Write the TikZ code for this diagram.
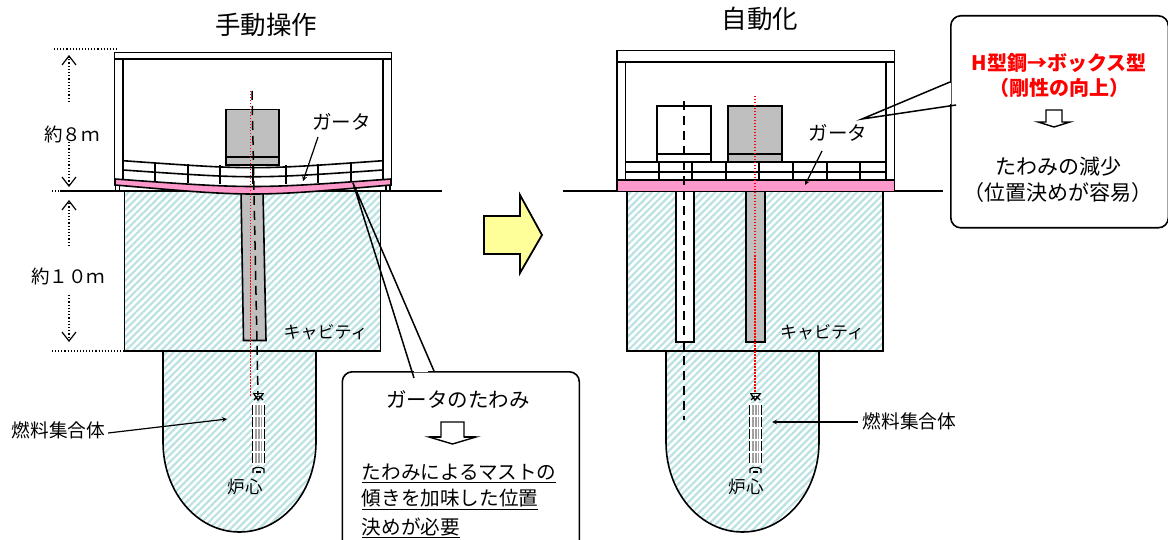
\documentclass[tikz,border=0pt]{standalone}
\usepackage{fontspec}
\setmainfont{Noto Sans CJK JP}
\usetikzlibrary{arrows.meta,patterns.meta}
\definecolor{hatchblue}{HTML}{BBE2E3}
\definecolor{girderpink}{HTML}{FF99CC}
\definecolor{blockgray}{HTML}{BFBFBF}
\definecolor{arrowyellow}{HTML}{FFFF99}
\newcommand{\fs}[1]{\fontsize{#1}{#1}\selectfont}
\begin{document}
\begin{tikzpicture}
[x=1pt,y=-1pt,>=stealth,line width=1.6pt,
hatch/.style={draw,pattern={Lines[angle=45,distance=5pt,line width=2.2pt]},pattern color=hatchblue},
steel/.style={draw,fill=white},
block/.style={draw,fill=blockgray},
girder/.style={draw,fill=girderpink},
mast/.style={line width=1.5pt,dash pattern=on 9pt off 6pt},
axis/.style={red,line width=1.4pt,dash pattern=on 1.5pt off 1.5pt},
dim/.style={dotted,line width=1.2pt,-{Straight Barb[length=9pt,width=14pt,line width=1.2pt]}},
guide/.style={dotted,line width=1.1pt},
thin arrow/.style={line width=1.2pt,->},
note/.style={draw,fill=white,rounded corners=10pt,inner sep=0pt},
openarrow/.style={draw,fill=white,line width=1.4pt},
]
\useasboundingbox (0,0) rectangle (1168,540);
\clip (0,0) rectangle (1168,540);

%Titles
\node (titleL) at (266,25) {\fs{25.5}手動操作};
\node (titleR) at (760,19) {\fs{25.5}自動化};

%Reactor vessels and cavities
\draw[hatch] (163,351) -- (163,442) .. controls (163,492) and (197,532) .. (239.5,532) .. controls (282,532) and (316,492) .. (316,442) -- (316,351) -- cycle;
\draw[hatch] (666,351) -- (666,442) .. controls (666,492) and (700,532) .. (742.5,532) .. controls (785,532) and (819,492) .. (819,442) -- (819,351) -- cycle;
\draw[hatch] (124.5,191) rectangle (380.5,351);
\draw[hatch] (627,191) rectangle (883,351);

%Ground lines
\draw[line width=1.1pt] (60,191) -- (442,191);
\draw[line width=1.1pt] (563,191) -- (943,191);

%Masts
\draw[block] (241,191) -- (263,191) -- (266,340.5) -- (243.5,340.5) -- cycle;
\draw[steel] (676,191) -- (694,191) -- (694,342) -- (676,342) -- cycle;
\draw[block] (746,191) -- (765,191) -- (765,342) -- (746,342) -- cycle;

%Building frame, left
\draw[steel] (114.5,59) rectangle (123,180);
\draw[steel] (383,59) rectangle (391.5,180);
\draw[steel] (115.5,180) rectangle (119.5,191);
\draw[steel] (386,180) rectangle (390,191);
\draw[steel] (114.5,52.5) rectangle (391.5,59);

%Building frame, right
\draw[steel] (617,62) rectangle (625.5,191);
\draw[steel] (886,62) rectangle (894.5,191);
\draw[steel] (617,50.5) rectangle (894.5,62);

%Sagging rails and girder
\foreach \vx in {155,188,220,253,286,318,351} {
  \draw ({\vx},{160.7+18.6*(\vx-123)/260*(383-\vx)/260}) -- ({\vx},{179+20*(\vx-123)/260*(383-\vx)/260});
}
\draw (123,160.7) .. controls (253,170) .. (383,160.7);
\draw (123,170) .. controls (253,179) .. (383,170);
\draw[girder] (115,179) .. controls (253,189) .. (391,179) -- (391,185) .. controls (253,197) .. (115,185) -- cycle;

%Straight rails and girder
\foreach \vx in {659,692,726,759,793,827,860} {
  \draw (\vx,162) -- (\vx,180);
}
\draw (625.5,162) -- (886,162);
\draw (625.5,172) -- (886,172);
\draw[girder] (617,180) rectangle (894.5,191.5);

%Hoist boxes
\draw[block] (226,109.5) rectangle (279,165);
\draw (226,157) -- (279,157);
\draw[steel] (657,106) rectangle (711,162);
\draw (657,154) -- (711,154);
\draw[block] (728,106) rectangle (782,162);
\draw (728,154) -- (782,154);

%Fuel assemblies
\foreach \fx in {252,749} {
  \fill[white] (\fx,403) rectangle (\fx+13,465);
  \foreach \sy in {405,417,429,441,453} {
    \fill[gray!75] (\fx+3,\sy) rectangle (\fx+10,\sy+10);
    \foreach \lx in {0.7,12.3} \draw[line width=1.4pt] (\fx+\lx,\sy) -- (\fx+\lx,\sy+10);
    \foreach \lx in {5,8} \draw[white,line width=0.7pt] (\fx+\lx,\sy) -- (\fx+\lx,\sy+10);
  }
  \draw[line width=1.8pt] (\fx+1,393.5) -- (\fx+12,393.5);
  \draw[line width=1.4pt] (\fx+2,394) -- (\fx+6,400) -- (\fx+11,394) (\fx+11,400) -- (\fx+7,396) (\fx+2,400) -- (\fx+6,396);
  \draw[line width=1.3pt] (\fx+1,473) -- (\fx+1,469) -- (\fx+4,467.5) -- (\fx+9,467.5) -- (\fx+12,469) -- (\fx+12,473);
  \draw[line width=1.1pt] (\fx+4,472) -- (\fx+9,472);
}

%Mast centre lines
\draw[mast] (252,91) -- (258,395);
\draw[axis] (250.5,91) -- (250.5,397);
\draw[mast] (684,101) -- (684,420);
\draw[axis] (755,96) -- (755,393);

%Height marks
\draw[guide] (54,49) -- (117,49);
\draw[guide] (52,191) -- (60,191);
\draw[guide] (52,351) -- (125,351);
\node (h8) at (72,134) {\fs{18.5}約８ｍ};
\node (h10) at (68,276) {\fs{18.5}約１０ｍ};
\coordinate (h8top) at (69,55);
\coordinate (h8low) at (69,187);
\coordinate (h10top) at (69,200);
\coordinate (h10low) at (69,342);
\draw[dim] (69,102) -- (h8top);
\draw[dim] (69,142) -- (h8low);
\draw[dim] (69,246) -- (h10top);
\draw[dim] (69,295) -- (h10low);

%Big arrow between the two cases
\draw[fill=arrowyellow,line width=1.8pt,line join=miter] (484,216) -- (520,216) -- (520,195) -- (542,235) -- (520,273) -- (520,254) -- (484,254) -- cycle;

%Labels
\node (garterL) at (341.5,122) {\fs{19.5}ガータ};
\node (garterR) at (838,133) {\fs{19.5}ガータ};
\node (cavL) at (325.5,332) {\fs{17}キャビティ};
\node (cavR) at (822,332) {\fs{17}キャビティ};
\node (coreL) at (245,487) {\fs{17.5}炉心};
\node (coreR) at (746,487) {\fs{17.5}炉心};
\node[anchor=west,inner sep=0pt] (fuelL) at (11,430) {\fs{18.7}燃料集合体};
\node[anchor=west,inner sep=0pt] (fuelR) at (862,421) {\fs{18.7}燃料集合体};

%Leader arrows
\coordinate (garterLend) at (303,181);
\coordinate (garterRend) at (805,185);
\coordinate (fuelLend) at (227,419);
\coordinate (fuelRend) at (772,422);
\draw[thin arrow] (318,137) -- (garterLend);
\draw[thin arrow] (822,151) -- (garterRend);
\draw[thin arrow] (fuelL.east) ++(2,3) -- (fuelLend);
\draw[thin arrow] (fuelR.west) ++(-4,1) -- (fuelRend);

%Callout on the left
\node[note,anchor=north west,minimum width=237pt,minimum height=200pt] (boxL) at (341.5,371) {};
\draw[white,line width=2.5pt] (414,371) -- (428,371);
\coordinate (tipL) at (353,183);
\coordinate (tailLa) at (414,378);
\coordinate (tailLb) at (434,371);
\draw[line width=1.5pt] (tailLa) -- (tipL) -- (tailLb);
\node (sagtitle) at (458,400) {\fs{20.5}ガータのたわみ};
\draw[openarrow] (441,422) -- (464,422) -- (464,437) -- (476,437) -- (452.5,444) -- (429,437) -- (441,437) -- cycle;
\draw[line width=2.4pt] (429,437) -- (441,437) (464,437) -- (476,437);
\node[anchor=north west,inner sep=0pt,align=left,font=\fs{19.6}] (sagnote) at (361,463) {\underline{たわみによるマストの}\\[7pt]\underline{傾きを加味した位置}\\[7pt]\underline{決めが必要}};

%Callout on the right
\node[note,anchor=north west,minimum width=217.5pt,minimum height=212pt] (boxR) at (950,15) {};
\draw[white,line width=2.5pt] (950,83) -- (950,104);
\coordinate (tipR) at (862,119);
\coordinate (tailRa) at (950,82);
\coordinate (tailRb) at (956,105);
\draw[line width=1.5pt] (tailRa) -- (tipR) -- (tailRb);
\node[red,align=center,inner sep=0pt,font=\fs{20}\bfseries] (boxhead) at (1059,75) {H型鋼→ボックス型\\[5pt]（剛性の向上）};
\draw[openarrow] (1046,110) -- (1062,110) -- (1062,122) -- (1070,122) -- (1054,127) -- (1038,122) -- (1046,122) -- cycle;
\node[align=center,inner sep=0pt,font=\fs{21}] (boxfoot) at (1058,180) {たわみの減少\\[5pt]（位置決めが容易）};

\end{tikzpicture}
\end{document}
